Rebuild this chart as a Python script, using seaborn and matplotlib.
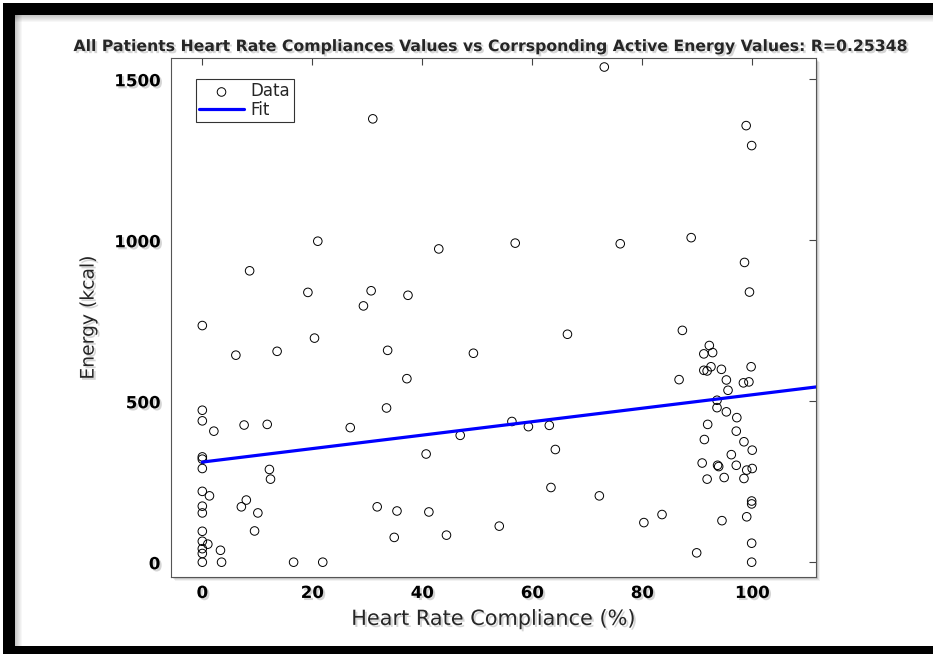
import matplotlib
matplotlib.use('Agg')
import seaborn as sns
import matplotlib.pyplot as plt
import matplotlib.patches as mpatches
import matplotlib.patheffects as pe
import numpy as np

# values (compliance %, energy kcal)
compliance = [0, 0, 0, 0, 0, 0, 0, 0, 0, 0, 0, 0, 0, 0,
              1.3, 1.0, 2.1, 3.3, 3.5,
              6.1, 7.1, 7.6, 8.0, 8.6, 9.5, 10.1, 11.8, 12.2, 12.4, 13.6,
              16.6, 19.2, 20.4, 21.0, 21.9,
              26.9, 29.3, 30.7, 31.0, 31.8, 33.5, 33.7, 34.9, 35.4, 37.2, 37.4,
              40.7, 41.2, 43.0, 44.4, 46.9, 49.3,
              54.0, 56.3, 56.9, 59.3, 63.1, 63.4, 64.2, 66.4,
              72.2, 73.1, 76.0, 80.3, 83.6,
              86.7, 87.3, 88.9, 89.9, 90.9, 91.2, 91.2, 91.3, 91.8, 91.8, 91.9, 92.2, 92.5, 92.8,
              93.6, 93.6, 93.7, 93.9, 94.4, 94.5, 94.9, 95.3, 95.3, 95.6, 96.2, 97.1, 97.1, 97.2,
              98.4, 98.5, 98.5, 98.6, 98.9, 99.0, 99.0, 99.4, 99.5, 99.8, 99.9, 99.9, 99.9, 99.9,
              99.9, 100.0, 100.0]
energy = [735, 472, 439, 327, 320, 291, 220, 174, 153, 96, 65, 42, 27, 0,
          206, 56, 407, 37, 0,
          643, 172, 426, 193, 905, 97, 153, 428, 288, 258, 655,
          0, 838, 696, 997, 0,
          418, 796, 843, 1377, 172, 479, 658, 77, 159, 570, 829,
          336, 156, 973, 84, 394, 649,
          112, 437, 991, 421, 425, 232, 350, 708,
          206, 1538, 989, 123, 148,
          567, 720, 1008, 29, 308, 647, 596, 381, 594, 258, 428, 673, 607, 651,
          503, 480, 301, 297, 599, 129, 263, 566, 467, 534, 334, 407, 301, 449,
          557, 374, 260, 931, 1356, 286, 141, 560, 839, 607, 1294, 190, 181, 59,
          0, 348, 291]

fit_intercept = 311
fit_slope = 2.09
fit_x = np.array([0, 120])
fit_y = fit_intercept + fit_slope * fit_x

x_ticks = [0, 20, 40, 60, 80, 100]
y_ticks = [0, 500, 1000, 1500]
title_text = 'All Patients Heart Rate Compliances Values vs Corrsponding Active Energy Values: R=0.25348'

sns.set_style('white')
plt.rcParams['font.family'] = ['DejaVu Sans']

W, H = 933, 654
fig = plt.figure(figsize=(W / 100, H / 100), dpi=100)
fig.patch.set_facecolor('white')


def box(x0, y0, x1, y1):
    # pixel box (top-left origin) -> figure fraction rect
    return (x0 / W, 1 - y1 / H), (x1 - x0) / W, (y1 - y0) / H


# black picture frame (top, left, bottom) with a soft inner shadow
for (xy, w, h), col in [(box(3, 3, 960, 654), 'black'), (box(15, 15, 960, 646), 'white')]:
    fig.patches.append(mpatches.Rectangle(xy, w, h, transform=fig.transFigure,
                                          facecolor=col, edgecolor='none', zorder=-10))
for i in range(7):
    a = 0.22 * (1 - i / 7)
    xy, w, h = box(15, 15 + i, 960, 16 + i)
    fig.patches.append(mpatches.Rectangle(xy, w, h, transform=fig.transFigure,
                                          facecolor='black', alpha=a, edgecolor='none', zorder=-9))
    xy, w, h = box(15 + i, 15, 16 + i, 646)
    fig.patches.append(mpatches.Rectangle(xy, w, h, transform=fig.transFigure,
                                          facecolor='black', alpha=a, edgecolor='none', zorder=-9))

ax_l, ax_t, ax_r, ax_b = 170.7, 58, 816, 577
# drop shadow behind the axes box
for i, a in enumerate([0.10, 0.08, 0.05]):
    xy, w, h = box(ax_l + 2 + i, ax_t + 2 + i, ax_r + 2 + i, ax_b + 2 + i)
    fig.patches.append(mpatches.Rectangle(xy, w, h, transform=fig.transFigure,
                                          facecolor='black', alpha=a, edgecolor='none', zorder=-8))

xy, w, h = box(ax_l, ax_t, ax_r, ax_b)
ax = fig.add_axes([xy[0], xy[1], w, h])
ax.set_facecolor('white')

sns.scatterplot(x=compliance, y=energy, ax=ax, marker='o', s=38,
                facecolor='none', edgecolor='black', linewidth=0.7,
                label='Data', zorder=3)
sns.lineplot(x=fit_x, y=fit_y, ax=ax, color='#0000ff', linewidth=2.3,
             label='Fit', zorder=4)

ax.set_xlim(-5.75, 111.6)
ax.set_ylim(-46, 1566)
ax.set_xticks(x_ticks)
ax.set_yticks(y_ticks)

for sp in ax.spines.values():
    sp.set_visible(True)
    sp.set_color('#555555')
    sp.set_linewidth(0.8)

ax.tick_params(direction='in', top=True, right=True, length=5, width=0.8,
               color='#444444', labelsize=12, labelcolor='black')
ax.tick_params(axis='x', pad=5)
ax.tick_params(axis='y', pad=7.5)

shadow = [pe.withSimplePatchShadow(offset=(1.5, -1.5), shadow_rgbFace='#777777', alpha=0.3)]
for lbl in ax.get_xticklabels() + ax.get_yticklabels():
    lbl.set_fontweight('bold')
    lbl.set_path_effects(shadow)

ax.set_xlabel('Heart Rate Compliance (%)', fontsize=15, labelpad=5, path_effects=shadow)
ax.set_ylabel('Energy (kcal)', fontsize=13.5, labelpad=12, path_effects=shadow)
ax.set_title(title_text, fontsize=11.3, fontweight='bold', pad=5, path_effects=shadow)

leg = ax.legend(loc='upper left', bbox_to_anchor=(0.0387, 0.9595), borderaxespad=0,
                frameon=True, fancybox=False, fontsize=12, handlelength=2.7,
                handletextpad=0.4, borderpad=0.2, labelspacing=0.02)
leg.get_frame().set_edgecolor('black')
leg.get_frame().set_linewidth(0.8)

fig.savefig('out.png', dpi=100)
